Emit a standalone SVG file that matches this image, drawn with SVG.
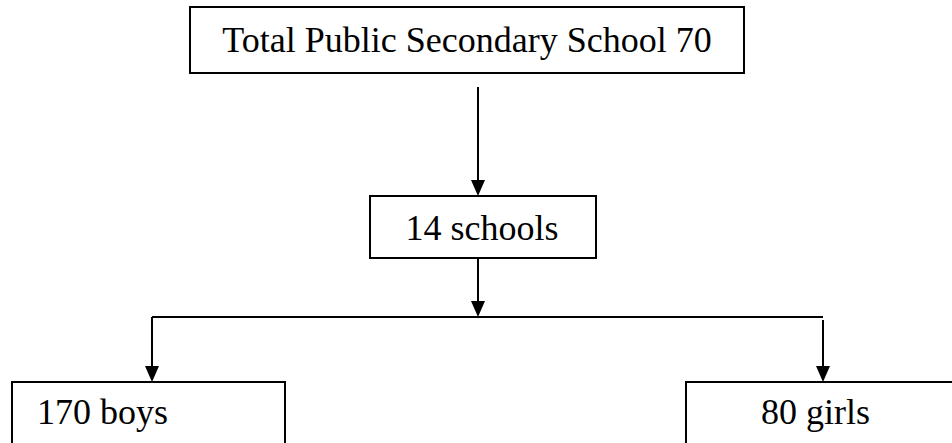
<svg xmlns="http://www.w3.org/2000/svg" width="952" height="443" viewBox="0 0 952 443">
  <style>
    .box { fill: #ffffff; stroke: #000000; stroke-width: 2; }
    .label { font-family: "Liberation Serif", "Times New Roman", serif; font-size: 36px; fill: #000000; }
    .wire { fill: none; stroke: #000000; stroke-width: 2; }
  </style>
  <defs>
    <marker id="arrow" markerUnits="userSpaceOnUse" markerWidth="14" markerHeight="16" refX="7" refY="16" orient="auto-start-reverse" viewBox="0 0 14 16">
      <path d="M0,0 L14,0 L7,16 Z" fill="#000000" transform="rotate(0)"/>
    </marker>
  </defs>
  <rect width="952" height="443" fill="#ffffff"/>

  <g id="node-total">
    <rect class="box" x="190" y="7" width="554" height="66"/>
    <text class="label" x="467" y="52" text-anchor="middle">Total Public Secondary School 70</text>
  </g>

  <g id="node-schools">
    <rect class="box" x="370" y="196" width="226" height="62"/>
    <text class="label" x="482" y="240" text-anchor="middle">14 schools</text>
  </g>

  <g id="node-boys">
    <rect class="box" x="12" y="382" width="273" height="80"/>
    <text class="label" x="37" y="424">170 boys</text>
  </g>

  <g id="node-girls">
    <rect class="box" x="686" y="382" width="290" height="80"/>
    <text class="label" x="761" y="424">80 girls</text>
  </g>

  <g id="connectors">
    <!-- vertical arrows: heads drawn as filled triangles -->
    <line class="wire" x1="478" y1="87" x2="478" y2="182"/>
    <path d="M471,180 L485,180 L478,196 Z" fill="#000000"/>

    <line class="wire" x1="478" y1="258" x2="478" y2="303"/>
    <path d="M471,301 L485,301 L478,317 Z" fill="#000000"/>

    <line class="wire" x1="152" y1="317" x2="823" y2="317"/>

    <line class="wire" x1="152" y1="317" x2="152" y2="368"/>
    <path d="M145,366 L159,366 L152,382 Z" fill="#000000"/>

    <line class="wire" x1="823" y1="320" x2="823" y2="368"/>
    <path d="M816,366 L830,366 L823,382 Z" fill="#000000"/>
  </g>
</svg>
